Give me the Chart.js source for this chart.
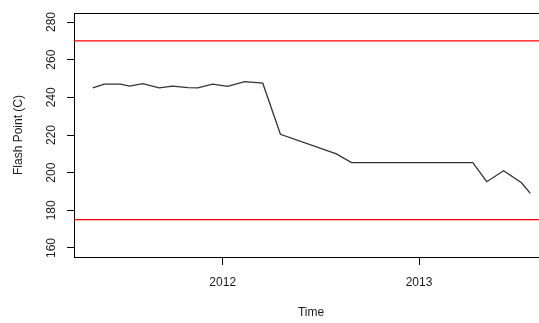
<!DOCTYPE html>
<html>
<head>
<meta charset="utf-8">
<script src="https://cdn.jsdelivr.net/npm/chart.js@4/dist/chart.umd.min.js"></script>
<style>
    html, body { margin: 0; padding: 0; background: #fff; overflow: hidden; }
    #wrap { width: 552px; height: 323px; }
</style>
</head>
<body>
<div id="wrap"><canvas id="c" width="552" height="323"></canvas></div>
<script>
// 数据 (decimal years)
const dates = [2011.338, 2011.396, 2011.480, 2011.526, 2011.592, 2011.677, 2011.745,
               2011.822, 2011.873, 2011.949, 2012.025, 2012.112, 2012.204, 2012.294,
               2012.579, 2012.656, 2013.274, 2013.345, 2013.431, 2013.522, 2013.567];
const flashPoint = [245, 247, 247, 246, 247.3, 245, 246,
                    245.2, 245, 247, 245.8, 248.3, 247.5, 220.4,
                    210, 205.3, 205.3, 195.2, 201, 194.6, 189];
const limits = [270, 175];
const yTicks = [160, 180, 200, 220, 240, 260, 280];
const xTicks = [2012, 2013];
const xRange = [2011.2425, 2013.657];
const yRange = [155.2, 284.8];

const FONT = 'Arial, "Liberation Sans", sans-serif';

// 边框和文字
const boxPlugin = {
    id: 'box',
    afterDraw: function(chart) {
        const ctx = chart.ctx;
        const a = chart.chartArea;
        const y = chart.scales.y;
        ctx.save();
        ctx.strokeStyle = '#000';
        ctx.lineWidth = 1;
        ctx.beginPath();
        ctx.moveTo(a.left, a.top + 0.5);
        ctx.lineTo(a.right + 0.5, a.top + 0.5);
        ctx.lineTo(a.right + 0.5, a.bottom);
        ctx.stroke();

        ctx.fillStyle = '#1a1a1a';
        ctx.font = '12px ' + FONT;
        ctx.textAlign = 'center';
        ctx.textBaseline = 'alphabetic';
        yTicks.forEach(v => {
            const py = y.getPixelForValue(v);
            ctx.save();
            ctx.translate(55, py);
            ctx.rotate(-Math.PI / 2);
            ctx.fillText(String(v), 0, 0);
            ctx.restore();
        });

        ctx.textBaseline = 'middle';
        ctx.save();
        ctx.translate(18.5, (a.top + a.bottom) / 2);
        ctx.rotate(-Math.PI / 2);
        ctx.fillText('Flash Point (C)', 0, 0);
        ctx.restore();

        ctx.fillText('Time', (a.left + a.right) / 2, 313);
        ctx.restore();
    }
};

const limitSets = limits.map(v => ({
    data: [{ x: xRange[0], y: v }, { x: xRange[1], y: v }],
    borderColor: '#ff0000',
    borderWidth: 1.2,
    pointRadius: 0,
    tension: 0
}));

new Chart(document.getElementById('c'), {
    type: 'line',
    data: {
        datasets: [{
            data: dates.map((d, i) => ({ x: d, y: flashPoint[i] })),
            borderColor: '#333',
            borderWidth: 1.3,
            pointRadius: 0,
            tension: 0
        }, ...limitSets]
    },
    options: {
        responsive: false,
        animation: false,
        devicePixelRatio: 1,
        layout: { padding: { left: 0, top: 13, right: 4, bottom: 0 } },
        plugins: {
            legend: { display: false },
            tooltip: { enabled: false }
        },
        scales: {
            x: {
                type: 'linear',
                min: xRange[0],
                max: xRange[1],
                afterBuildTicks: s => { s.ticks = xTicks.map(v => ({ value: v })); },
                afterFit: s => { s.height = 66; },
                ticks: {
                    color: '#1a1a1a',
                    font: { size: 12, family: FONT },
                    padding: 10,
                    maxRotation: 0,
                    callback: v => String(v)
                },
                grid: { drawOnChartArea: false, drawTicks: true, tickLength: 8, color: '#000' },
                border: { display: true, color: '#000', width: 1 }
            },
            y: {
                type: 'linear',
                min: yRange[0],
                max: yRange[1],
                afterBuildTicks: s => { s.ticks = yTicks.map(v => ({ value: v })); },
                afterFit: s => { s.width = 74; },
                ticks: { display: false },
                grid: { drawOnChartArea: false, drawTicks: true, tickLength: 7, color: '#000' },
                border: { display: true, color: '#000', width: 1 }
            }
        }
    },
    plugins: [boxPlugin]
});
</script>
</body>
</html>
